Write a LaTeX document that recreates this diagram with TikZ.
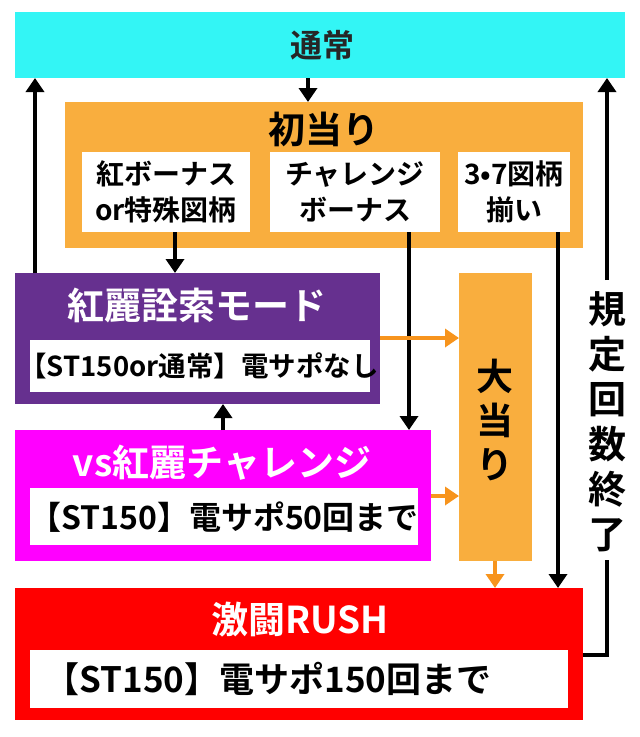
\documentclass[tikz,border=0pt]{standalone}
\usepackage{fontspec}
\setmainfont{Noto Sans CJK JP}[BoldFont={* Bold}]
\newfontfamily\jp{Noto Sans CJK JP Bold}
\usetikzlibrary{arrows.meta}
\definecolor{cyanbox}{HTML}{33F5F5}
\definecolor{orbox}{HTML}{F9AE3E}
\definecolor{purbox}{HTML}{66308F}
\definecolor{magbox}{HTML}{FF00FF}
\definecolor{redbox}{HTML}{FF0000}
\definecolor{orarrow}{HTML}{F7941D}
\begin{document}
\begin{tikzpicture}[x=1pt,y=-1pt,
 blk/.style={draw=black,line width=4pt,-{Triangle[length=14pt,width=18pt]}},
 ora/.style={draw=orarrow,line width=4pt,-{Triangle[length=14pt,width=18pt]}},
 big/.style={font=\jp\fontsize{37}{44}\selectfont},
 mid/.style={font=\jp\fontsize{32}{36}\selectfont},
 sm/.style={font=\jp\fontsize{28}{36}\selectfont,align=center}]
\useasboundingbox (0,0) rectangle (640,737);
\fill[white] (0,0) rectangle (640,737);
% boxes
\fill[cyanbox] (15,12) rectangle (625,78);
\node[font=\jp\fontsize{32}{36}\selectfont,text=black!85] (tsu) at (322,45) {通常};
\fill[orbox] (65,102) rectangle (583,248);
\node[big] (sho) at (324,129) {初当り};
\fill[white] (82,152) rectangle (250,232);
\node[sm] (b1) at (166,192) {紅ボーナス\\or特殊図柄};
\fill[white] (270,152) rectangle (440,232);
\node[sm] (b2) at (355,192) {チャレンジ\\ボーナス};
\fill[white] (458,152) rectangle (570,232);
\node[sm] (b3) at (514,192) {3•7図柄\\揃い};
\fill[purbox] (15,273) rectangle (380,404);
\node[big,text=white] (pur) at (197,305) {紅麗詮索モード};
\fill[white] (30,340) rectangle (370,392);
\node[font=\jp\fontsize{27.5}{32}\selectfont,inner sep=0pt] (purt) at (199,366) {【ST150or通常】電サポなし};
\fill[magbox] (15,430) rectangle (431,561);
\node[big,text=white] (mag) at (222,463) {vs紅麗チャレンジ};
\fill[white] (30,488) rectangle (418,545);
\node[mid,inner sep=0pt] (magt) at (224,517) {【ST150】電サポ50回まで};
\fill[orbox] (459,273) rectangle (532,561);
\node[big,align=center] (dai) at (495,420) {大\\当\\り};
\fill[redbox] (15,588) rectangle (583,720);
\node[big,text=white] (rush) at (300,620) {激闘RUSH};
\fill[white] (30,650) rectangle (568,708);
\node[font=\jp\fontsize{35}{40}\selectfont,inner sep=0pt] (rusht) at (268,679) {【ST150】電サポ150回まで};
% connectors
\draw[blk] (308,78) -- (308,102);
\draw[blk] (35,273) -- (35,78);
\draw[blk] (175,232) -- (175,273);
\draw[blk] (409,232) -- (409,430);
\draw[blk] (558,232) -- (558,588);
\draw[blk] (223,430) -- (223,404);
\draw[ora] (380,338) -- (459,338);
\draw[ora] (431,496) -- (459,496);
\draw[ora] (495,561) -- (495,588);
\draw[line width=4pt] (583,655) -- (607,655) -- (607,560);
\draw[blk] (607,280) -- (607,78);
\node[big,align=center,fill=white,inner sep=1pt,font=\jp\fontsize{38}{45}\selectfont] (kitei) at (607,422) {規\\定\\回\\数\\終\\了};
\end{tikzpicture}
\end{document}
